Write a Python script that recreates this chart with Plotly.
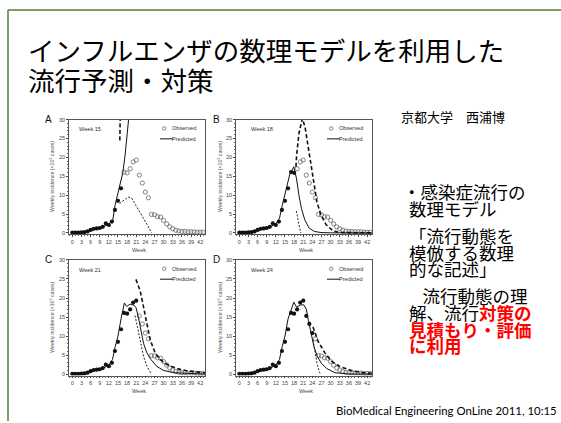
import plotly.graph_objects as go

W, H = 561, 423

# ---------------- data ----------------
weeks = list(range(0, 44))
observed = [0.1, 0.1, 0.1, 0.15, 0.2, 0.4, 0.8, 1.1, 1.2, 1.3,
            1.6, 2.5, 2.1, 3.0, 6.1, 8.5, 11.8, 16.1, 15.9, 17.0,
            18.8, 19.3, 15.3, 13.2, 10.8, 9.3, 4.9, 4.8, 4.3, 4.2,
            3.3, 2.4, 1.6, 1.1, 0.7, 0.5, 0.4, 0.4, 0.3, 0.3,
            0.3, 0.2, 0.2, 0.2]

panel_letters = ["A", "B", "C", "D"]
forecast_labels = ["Week 15", "Week 18", "Week 21", "Week 24"]
fit_until = [16, 18, 21, 24]

# predicted (solid)
predA_w = [0, 2, 4, 6, 8, 10, 12, 13.3, 14.0, 14.8, 15.7, 16.6, 17.3, 17.9, 18.6]
predA_v = [0.05, 0.1, 0.2, 0.6, 1.1, 1.5, 2.4, 3.4, 7.2, 9.9, 12.5, 16.0, 20.3, 24.6, 31.0]
predB_w = [0, 2, 4, 6, 8, 10, 12, 13.2, 14.1, 14.8, 15.7, 16.6, 17.9, 18.8, 19.6, 20.4, 21.5, 22.9, 24.6, 26.8, 30, 44]
predB_v = [0.05, 0.1, 0.2, 0.6, 1.1, 1.5, 2.4, 3.9, 7.3, 9.5, 12.5, 15.6, 17.5, 14.3, 9.9, 6.5, 3.5, 1.3, 0.4, 0.1, 0.02, 0]
predC_w = [0, 2, 4, 6, 8, 10, 12, 13.2, 14.1, 15, 16, 17.1, 17.9, 19, 20.3, 20.9, 21.7, 22.5, 23.4, 24.5, 25.8, 27.7, 29.9, 33.2, 39.8, 44]
predC_v = [0.05, 0.1, 0.2, 0.6, 1.1, 1.5, 2.4, 3.9, 7.3, 10, 14.5, 18.7, 17.8, 18.4, 18.1, 17.5, 15, 11.6, 8.1, 5.6, 3.9, 2.1, 1.0, 0.4, 0.05, 0]
predD_w = [0, 2, 4, 6, 8, 10, 12, 13.2, 14.1, 15, 16, 17.9, 18.8, 20.1, 21.2, 22, 22.7, 23.6, 24.5, 25.6, 27, 28.7, 31.4, 36, 44]
predD_v = [0.05, 0.1, 0.2, 0.6, 1.1, 1.5, 2.4, 3.9, 7.3, 10, 14.5, 18.9, 17.6, 18.2, 18.2, 17.1, 14.1, 10.7, 7.3, 4.7, 2.8, 1.5, 0.4, 0.05, 0]

# upper bound (bold dashed)
upA_w = [15.6, 15.75]
upA_v = [24.5, 32]
upB_w = [18.6, 18.8, 19.6, 20.4, 20.7, 21.6, 22.4, 23.5, 24.6, 25.5, 26.8, 28.5, 30.7, 32.9, 44]
upB_v = [17.5, 20.3, 26.4, 29.8, 30.3, 28, 23.8, 17.7, 12.5, 8.2, 4.8, 2.2, 0.6, 0.1, 0]
upC_w = [20.9, 22.3, 23.4, 24.5, 25.6, 27.2, 28.8, 31, 34.3, 37.6, 42, 44]
upC_v = [24.9, 21.9, 17.6, 13.3, 9.0, 5.6, 3.9, 2.6, 1.5, 0.9, 0.4, 0.3]
upD_w = [24.2, 25.9, 28.1, 30.3, 33.1, 37, 40.4, 44]
upD_v = [12.4, 8.6, 5.6, 3.4, 2.0, 0.9, 0.4, 0.2]

# lower bound (thin dashed)
loA_w = [15.5, 16.8, 18.4, 19.5, 20.9, 22.3, 23.6, 24.7, 25.8, 26.1]
loA_v = [7.8, 8.6, 9.5, 9.2, 7.3, 5.6, 3.5, 2.0, 0.4, 0]
loB_w = [18.7, 18.9, 19.5, 20.2]
loB_v = [5.8, 5.2, 2.5, 0]
loC_w = [20.6, 21.4, 22.3, 23.4, 24.5, 25.5, 26.0]
loC_v = [15.4, 12.4, 8.1, 4.7, 2.1, 0.4, 0]
loD_w = [24.2, 25.0, 25.6, 26.4, 26.7]
loD_v = [9.0, 5.6, 2.6, 0.4, 0]

y_ticks = [0, 5, 10, 15, 20, 25, 30]
x_ticks = [0, 3, 6, 9, 12, 15, 18, 21, 24, 27, 30, 33, 36, 39, 42]

pred_w = [predA_w, predB_w, predC_w, predD_w]
pred_v = [predA_v, predB_v, predC_v, predD_v]
up_w = [upA_w, upB_w, upC_w, upD_w]
up_v = [upA_v, upB_v, upC_v, upD_v]
lo_w = [loA_w, loB_w, loC_w, loD_w]
lo_v = [loA_v, loB_v, loC_v, loD_v]

# ---------------- layout geometry (pixels) ----------------
panels = [  # L, R, T, B, ytitle x, letter x, forecast-label x
    (69, 205, 118, 234, 52, 48, 77),
    (236, 372, 118, 234, 220, 216, 249),
    (69, 205, 260, 377, 52, 48, 77),
    (236, 372, 260, 377, 220, 216, 249),
]

def px(x):
    return x / W

def py(y):
    return 1 - y / H

fig = go.Figure()
layout = dict(
    width=W, height=H, margin=dict(l=0, r=0, t=0, b=0),
    paper_bgcolor="white", plot_bgcolor="white", showlegend=False,
)
annotations = []
shapes = []

sans = "Liberation Sans, Arial"
tickfont = dict(family=sans, size=5.5, color="#444")

for i in range(4):
    L, R, T, B, tx, lx, fx = panels[i]
    n = "" if i == 0 else str(i + 1)
    xa, ya = "x" + n, "y" + n
    layout["xaxis" + n] = dict(
        domain=[px(L), px(R)], anchor=ya, range=[-1.1, 43.6],
        tickvals=x_ticks, ticks="outside", ticklen=2, tickwidth=0.6,
        tickcolor="#444", tickfont=tickfont, showgrid=False, zeroline=False,
        showline=True, linecolor="#555", linewidth=0.8, mirror=True,
        minor=dict(dtick=1, tick0=0, ticks="outside", ticklen=1.2, tickcolor="#666", tickwidth=0.5),
        fixedrange=True,
    )
    layout["yaxis" + n] = dict(
        domain=[py(B), py(T)], anchor=xa, range=[-0.35, 30],
        tickvals=y_ticks, ticks="outside", ticklen=2, tickwidth=0.6,
        tickcolor="#444", tickfont=tickfont, showgrid=False, zeroline=False,
        showline=True, linecolor="#555", linewidth=0.8, mirror=True,
        minor=dict(dtick=1, tick0=0, ticks="outside", ticklen=1.2, tickcolor="#666", tickwidth=0.5),
        fixedrange=True,
    )
    fw = [w for w in weeks if w <= fit_until[i]]
    fv = [v for w, v in zip(weeks, observed) if w <= fit_until[i]]
    ow = [w for w in weeks if w > fit_until[i]]
    ov = [v for w, v in zip(weeks, observed) if w > fit_until[i]]
    fig.add_trace(go.Scatter(x=ow, y=ov, xaxis=xa, yaxis=ya, mode="markers",
                             marker=dict(symbol="circle-open", size=4.2, color="#666", line=dict(width=0.8, color="#666")),
                             cliponaxis=True))
    fig.add_trace(go.Scatter(x=lo_w[i], y=lo_v[i], xaxis=xa, yaxis=ya, mode="lines",
                             line=dict(color="#222", width=1.0, dash="2px,1.6px")))
    fig.add_trace(go.Scatter(x=up_w[i], y=up_v[i], xaxis=xa, yaxis=ya, mode="lines",
                             line=dict(color="#111", width=1.6, dash="4px,2.5px")))
    fig.add_trace(go.Scatter(x=pred_w[i], y=pred_v[i], xaxis=xa, yaxis=ya, mode="lines",
                             line=dict(color="#111", width=1.0)))
    fig.add_trace(go.Scatter(x=fw, y=fv, xaxis=xa, yaxis=ya, mode="markers",
                             marker=dict(symbol="circle", size=4.2, color="#111"),
                             cliponaxis=True))

    # legend inside panel
    shapes.append(dict(type="circle", xref="paper", yref="paper",
                       x0=px(R - 42.5), x1=px(R - 39), y0=py(T + 10.7), y1=py(T + 7.2),
                       line=dict(color="#666", width=0.8)))
    shapes.append(dict(type="line", xref="paper", yref="paper",
                       x0=px(R - 45), x1=px(R - 32), y0=py(T + 19.5), y1=py(T + 19.5),
                       line=dict(color="#111", width=1.0)))
    small = dict(family=sans, size=5.6, color="#333")
    annotations.append(dict(text="Observed", x=px(R - 7), y=py(T + 9), xref="paper", yref="paper",
                            xanchor="right", yanchor="middle", showarrow=False, font=small))
    annotations.append(dict(text="Predicted", x=px(R - 7), y=py(T + 19.5), xref="paper", yref="paper",
                            xanchor="right", yanchor="middle", showarrow=False, font=small))
    annotations.append(dict(text=forecast_labels[i], x=px(fx), y=py(T + 10), xref="paper", yref="paper",
                            xanchor="left", yanchor="middle", showarrow=False, font=small))
    annotations.append(dict(text="Week", x=px((L + R) / 2 + 2), y=py(B + 16), xref="paper", yref="paper",
                            xanchor="center", yanchor="middle", showarrow=False,
                            font=dict(family=sans, size=5.5, color="#444")))
    annotations.append(dict(text="Weekly incidence (×10<sup>3</sup> cases)", x=px(tx), y=py((T + B) / 2),
                            xref="paper", yref="paper", textangle=-90,
                            xanchor="center", yanchor="middle", showarrow=False,
                            font=dict(family=sans, size=5.2, color="#555")))
    annotations.append(dict(text=panel_letters[i], x=px(lx), y=py(T), xref="paper", yref="paper",
                            xanchor="center", yanchor="middle", showarrow=False,
                            font=dict(family=sans, size=10, color="#111")))

# slide frame
shapes.append(dict(type="line", xref="paper", yref="paper", x0=px(8), x1=px(561), y0=py(7), y1=py(7),
                   line=dict(color="#567d2e", width=1.5)))
shapes.append(dict(type="line", xref="paper", yref="paper", x0=px(8), x1=px(8), y0=py(7), y1=py(423),
                   line=dict(color="#567d2e", width=1.5)))

jp = "Noto Sans CJK JP"
title_font = dict(family=jp, size=26.5, color="#000")
annotations.append(dict(text="インフルエンザの数理モデルを利用した", x=px(26), y=py(47), xref="paper", yref="paper",
                        xanchor="left", yanchor="middle", showarrow=False, font=title_font))
annotations.append(dict(text="流行予測・対策", x=px(26), y=py(77), xref="paper", yref="paper",
                        xanchor="left", yanchor="middle", showarrow=False, font=title_font))
annotations.append(dict(text="京都大学　西浦博", x=px(399), y=py(115), xref="paper", yref="paper",
                        xanchor="left", yanchor="middle", showarrow=False, font=dict(family=jp, size=13, color="#000")))

body = [  # text, left x, centre y
    ("・感染症流行の", 401, 191),
    ("数理モデル", 407, 208),
    ("「流行動態を", 407, 235),
    ("模倣する数理", 407, 252),
    ("的な記述」", 407, 269),
    ("　流行動態の理", 403, 296),
    ("解、流行<span style='color:#ff0000'><b>対策の</b></span>", 407, 313),
    ("<span style='color:#ff0000'><b>見積もり・評価</b></span>", 407, 330),
    ("<span style='color:#ff0000'><b>に利用</b></span>", 407, 347),
]
for txt, xx, yy in body:
    annotations.append(dict(text=txt, x=px(xx), y=py(yy), xref="paper", yref="paper",
                            xanchor="left", yanchor="middle", showarrow=False,
                            font=dict(family=jp, size=17.5, color="#000")))

annotations.append(dict(text="BioMedical Engineering OnLine 2011, 10:15", x=px(559), y=py(412),
                        xref="paper", yref="paper", xanchor="right", yanchor="middle", showarrow=False,
                        font=dict(family="Lato", size=11.4, color="#000")))

layout["annotations"] = annotations
layout["shapes"] = shapes
fig.update_layout(**layout)
fig.write_html("out.html", config={"displayModeBar": False},
               post_script="document.body.style.margin='0px';document.body.style.padding='0px';")
